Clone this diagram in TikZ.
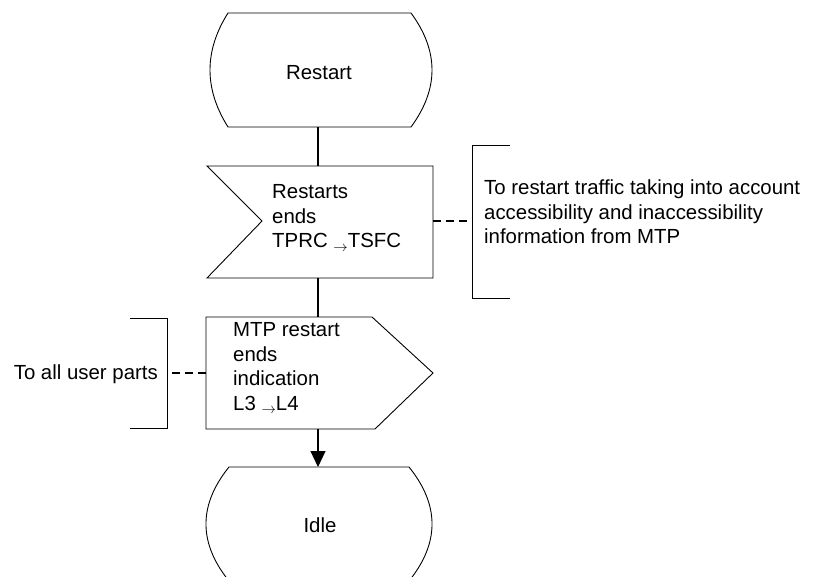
\documentclass[tikz,border=0pt]{standalone}
\usepackage{fontspec}
\setmainfont{Liberation Sans}
\usetikzlibrary{arrows.meta}
\begin{document}
\begin{tikzpicture}[x=1pt,y=-1pt,
  shp/.style={draw=black,line width=0.9pt},
  conn/.style={draw=black,line width=1.2pt},
  dsh/.style={draw=black,line width=1.2pt,dash pattern=on 8pt off 5pt},
  brk/.style={draw=black,line width=0.9pt},
  txt/.style={font=\fontsize{20.4}{24.5}\selectfont,inner sep=0pt,align=left},
  arr/.style={-{Triangle[length=16pt,width=15pt]}}]
\useasboundingbox (0,0) rectangle (816,577);
\newcommand{\sarrow}{\raisebox{-0.3ex}{\fontsize{15}{15}\selectfont$\rightarrow$}}
% Restart state
\draw[shp] (228,13) -- (411,13) .. controls (439,51) and (439,89) .. (411,127)
  -- (228,127) .. controls (204,89) and (204,51) .. (228,13) -- cycle;
\node[txt] (restart) at (319,73) {Restart};
\coordinate (rsb) at (318,127);
% input symbol
\draw[shp] (207,166) -- (433,166) -- (433,278) -- (207,278) -- (262,221) -- cycle;
\coordinate (int) at (318,166);
\coordinate (inb) at (318,278);
\coordinate (inr) at (433,221);
\node[txt,anchor=west] (inp) at (272,218) {Restarts\\ends\\TPRC \sarrow TSFC};
% right comment
\draw[brk] (510,145) -- (472,145) -- (472,298) -- (510,298);
\coordinate (cr) at (472,221);
\node[txt,anchor=west] (com1) at (484,212) {To restart traffic taking into account\\accessibility and inaccessibility\\information from MTP};
% output symbol
\draw[shp] (206,317) -- (372,317) -- (433,373) -- (375,429) -- (206,429) -- cycle;
\coordinate (outt) at (318,317);
\coordinate (outb) at (318,429);
\coordinate (outl) at (206,373);
\node[txt,anchor=west] (outp) at (233,368) {MTP restart\\ends\\indication\\L3 \sarrow L4};
% left comment
\draw[brk] (130,318) -- (167,318) -- (167,428) -- (130,428);
\coordinate (cl) at (167,373);
\node[txt,anchor=east] (com2) at (158,374) {To all user parts};
% Idle state
\begin{scope}
\clip (0,0) rectangle (816,577);
\draw[shp] (229,467) -- (409,467) .. controls (439.7,505) and (439.7,543) .. (409,581)
  -- (229,581) .. controls (198.3,543) and (198.3,505) .. (229,467) -- cycle;
\end{scope}
\node[txt] (idle) at (320,525) {Idle};
\coordinate (idt) at (318,467);
% connectors
\draw[conn] (rsb) -- (int);
\draw[conn] (inb) -- (outt);
\draw[conn,arr] (outb) -- (idt);
\draw[dsh] (inr) -- (cr);
\draw[dsh] (outl) -- (cl);
\end{tikzpicture}
\end{document}
